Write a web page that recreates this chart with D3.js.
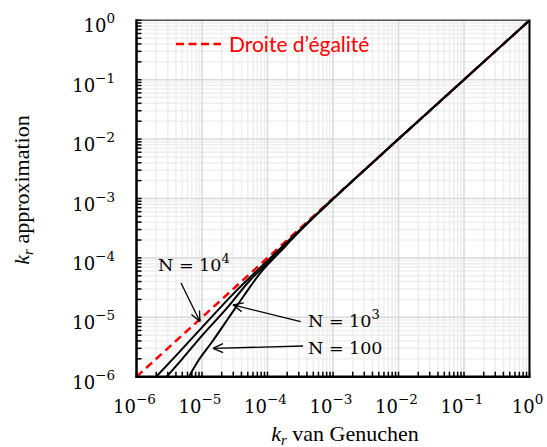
<!DOCTYPE html>
<html><head><meta charset="utf-8">
<script src="https://cdn.jsdelivr.net/npm/d3@7"></script>
<style>body{margin:0;background:#fff}svg{display:block}</style>
</head><body>
<svg id="c" width="547" height="447"></svg>
<script>
// ---- data ----
const tickValues = [1e-6, 1e-5, 1e-4, 1e-3, 1e-2, 1e-1, 1e0];
const tickExponents = ["−6", "−5", "−4", "−3", "−2", "−1", "0"];
const equalityLine = [1e-6, 1];
// N = 10^4
const vgN1e4 = [2.0e-6, 3.98e-6, 1e-5, 3.16e-5, 1e-4, 3.16e-4, 1e-3, 1e-2, 1e-1, 1];
const apN1e4 = [1e-6, 2.24e-6, 6.76e-6, 2.63e-5, 9.0e-5, 3.02e-4, 9.89e-4, 1e-2, 1e-1, 1];
// N = 10^3
const vgN1e3 = [2.88e-6, 5.01e-6, 1e-5, 2.51e-5, 5.37e-5, 1e-4, 3.16e-4, 1e-3, 1e-2, 1];
const apN1e3 = [1e-6, 2.0e-6, 4.9e-6, 1.51e-5, 4.17e-5, 8.22e-5, 2.92e-4, 9.77e-4, 1e-2, 1];
// N = 100
const vgN100 = [6.31e-6, 8.91e-6, 1.41e-5, 2.51e-5, 4.47e-5, 7.94e-5, 1.58e-4, 3.16e-4, 1e-3, 1e-2, 1];
const apN100 = [1e-6, 1.91e-6, 3.8e-6, 9.55e-6, 2.4e-5, 5.75e-5, 1.29e-4, 2.88e-4, 9.77e-4, 1e-2, 1];
const annotationBase = ["N = 10", "N = 10", "N = 100"];
const annotationSup = ["4", "3", ""];
const annotationTipX = [9.3e-6, 2.97e-5, 1.47e-5];
const annotationTipY = [8.5e-6, 1.62e-5, 3.0e-6];
const legendLabel = "Droite d’égalité";

// ---- layout ----
const L = 136.5, R = 529.5, T = 20.3, B = 376.7;
const svg = d3.select("#c");
const x = d3.scaleLog().domain([1e-6, 1]).range([L, R]);
const y = d3.scaleLog().domain([1e-6, 1]).range([B, T]);

// grid
const minor = [];
for (let e = -6; e < 0; e++) for (let m = 2; m <= 9; m++) minor.push(m * Math.pow(10, e));
const g = svg.append("g");
g.selectAll(".mx").data(minor).join("line")
  .attr("x1", d => x(d)).attr("x2", d => x(d)).attr("y1", T).attr("y2", B)
  .attr("stroke", "#eeeeee").attr("stroke-width", 1.5);
g.selectAll(".my").data(minor).join("line")
  .attr("y1", d => y(d)).attr("y2", d => y(d)).attr("x1", L).attr("x2", R)
  .attr("stroke", "#eeeeee").attr("stroke-width", 1.5);
g.selectAll(".Mx").data(tickValues).join("line")
  .attr("x1", d => x(d)).attr("x2", d => x(d)).attr("y1", T).attr("y2", B)
  .attr("stroke", "#d9d9d9").attr("stroke-width", 1.5);
g.selectAll(".My").data(tickValues).join("line")
  .attr("y1", d => y(d)).attr("y2", d => y(d)).attr("x1", L).attr("x2", R)
  .attr("stroke", "#d9d9d9").attr("stroke-width", 1.5);

// clip
svg.append("clipPath").attr("id", "clip").append("rect")
  .attr("x", L).attr("y", T).attr("width", R - L).attr("height", B - T);

const plot = svg.append("g").attr("clip-path", "url(#clip)");
plot.append("path").datum(equalityLine.map(v => [v, v]))
  .attr("d", d3.line().x(d => x(d[0])).y(d => y(d[1])))
  .attr("fill", "none").attr("stroke", "#ff0000").attr("stroke-width", 2.5)
  .attr("stroke-dasharray", "8,5");
const line = d3.line().x(d => x(d[0])).y(d => y(d[1])).curve(d3.curveMonotoneX);
[[vgN1e4, apN1e4], [vgN1e3, apN1e3], [vgN100, apN100]].forEach(([xs, ys]) => {
  plot.append("path").datum(xs.map((v, i) => [v, ys[i]]))
    .attr("d", line).attr("fill", "none").attr("stroke", "#000").attr("stroke-width", 2);
});

// frame
svg.append("line").attr("x1", L).attr("x2", R).attr("y1", T).attr("y2", T)
  .attr("stroke", "#555").attr("stroke-width", 1.5);
svg.append("line").attr("x1", R).attr("x2", R).attr("y1", T - 0.7).attr("y2", B)
  .attr("stroke", "#000").attr("stroke-width", 2);
svg.append("line").attr("x1", L).attr("x2", L).attr("y1", T - 1).attr("y2", B + 1)
  .attr("stroke", "#000").attr("stroke-width", 2.5);
svg.append("line").attr("x1", L - 1).attr("x2", R + 1).attr("y1", B).attr("y2", B)
  .attr("stroke", "#000").attr("stroke-width", 2.5);

// ticks (inward)
svg.selectAll(".ty").data(minor.concat(tickValues)).join("line")
  .attr("x1", L).attr("x2", L + 5).attr("y1", d => y(d)).attr("y2", d => y(d))
  .attr("stroke", "#000").attr("stroke-width", 1.5);
svg.selectAll(".tx").data(minor.concat(tickValues)).join("line")
  .attr("y1", B).attr("y2", B - 5).attr("x1", d => x(d)).attr("x2", d => x(d))
  .attr("stroke", "#000").attr("stroke-width", 1.5);

// tick labels
const tf = "DejaVu Serif";
const yl = svg.selectAll(".yl").data(tickValues).join("text")
  .attr("x", 115).attr("y", d => y(d) + 12).attr("text-anchor", "end")
  .attr("font-family", tf).attr("font-size", 18).attr("fill", "#000");
yl.append("tspan").text("10");
yl.append("tspan").attr("dy", -9).attr("font-size", 13.5).text((d, i) => tickExponents[i]);
const xl = svg.selectAll(".xl").data(tickValues).join("text")
  .attr("x", d => x(d) - 2).attr("y", 413).attr("text-anchor", "middle")
  .attr("font-family", tf).attr("font-size", 18).attr("fill", "#000");
xl.append("tspan").text("10");
xl.append("tspan").attr("dy", -9).attr("font-size", 13.5).text((d, i) => tickExponents[i]);

// axis titles
const af = "Liberation Serif";
const xt = svg.append("text").attr("x", 345).attr("y", 441).attr("text-anchor", "middle")
  .attr("font-family", af).attr("font-size", 22).attr("fill", "#000");
xt.append("tspan").attr("font-style", "italic").text("k");
xt.append("tspan").attr("font-style", "italic").attr("font-size", 15).attr("dy", 4).text("r");
xt.append("tspan").attr("dy", -4).text(" van Genuchen");
const yt = svg.append("text").attr("transform", "translate(28.5,190) rotate(-90)")
  .attr("text-anchor", "middle").attr("font-family", af).attr("font-size", 22).attr("fill", "#000");
yt.append("tspan").attr("font-style", "italic").text("k");
yt.append("tspan").attr("font-style", "italic").attr("font-size", 15).attr("dy", 4).text("r");
yt.append("tspan").attr("dy", -4).text(" approximation");

// legend
svg.append("line").attr("x1", 176).attr("x2", 221).attr("y1", 44).attr("y2", 44)
  .attr("stroke", "#ff0000").attr("stroke-width", 2.5).attr("stroke-dasharray", "8,4.5");
svg.append("text").attr("x", 229).attr("y", 52).attr("font-family", "Lato")
  .attr("font-size", 21).attr("fill", "#ff0000").text(legendLabel);

// annotations
const labelPos = [[158, 270.7], [308, 327.3], [308, 354]];
const tailPos = [[181, 283], [300.7, 321.7], [303, 346]];
annotationBase.forEach((t, i) => {
  const tx = svg.append("text").attr("x", labelPos[i][0]).attr("y", labelPos[i][1])
    .attr("font-family", tf).attr("font-size", 17.5).attr("fill", "#000");
  tx.append("tspan").text(t);
  if (annotationSup[i]) tx.append("tspan").attr("dy", -8).attr("font-size", 13).text(annotationSup[i]);
  const x2 = x(annotationTipX[i]), y2 = y(annotationTipY[i]);
  const x1 = tailPos[i][0], y1 = tailPos[i][1];
  svg.append("line").attr("x1", x1).attr("y1", y1).attr("x2", x2).attr("y2", y2)
    .attr("stroke", "#000").attr("stroke-width", 1.3);
  const a = Math.atan2(y2 - y1, x2 - x1), len = 11, sp = 0.42;
  [a + Math.PI - sp, a + Math.PI + sp].forEach(b => {
    svg.append("line").attr("x1", x2).attr("y1", y2)
      .attr("x2", x2 + len * Math.cos(b)).attr("y2", y2 + len * Math.sin(b))
      .attr("stroke", "#000").attr("stroke-width", 1.3);
  });
});
</script>
</body></html>
